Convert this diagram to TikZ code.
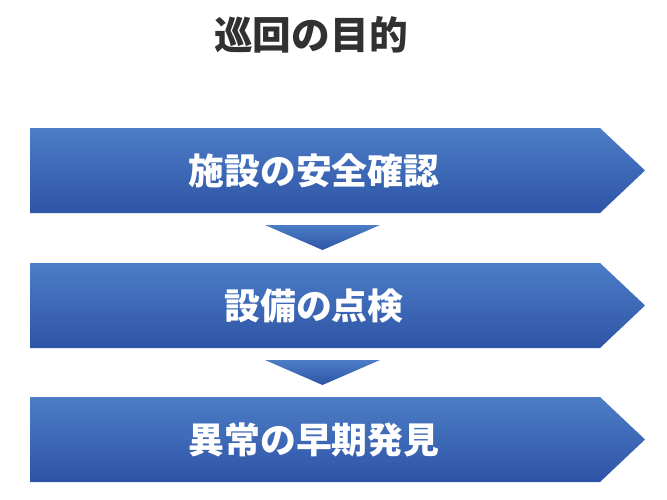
\documentclass[tikz,border=0pt]{standalone}
\usepackage{fontspec}
\newfontfamily\jp{Noto Sans CJK JP}
\usetikzlibrary{positioning}
\definecolor{boxtop}{HTML}{4C7DC6}
\definecolor{boxbot}{HTML}{2E54A6}
\definecolor{titlegray}{HTML}{333030}
\tikzset{
  stepshape/.style={top color=boxtop,bottom color=boxbot,draw=none},
  steptext/.style={text=white,font=\jp\bfseries\fontsize{25.5}{28}\selectfont},
}
\begin{document}
\begin{tikzpicture}[x=0.025cm,y=-0.025cm]
\useasboundingbox[fill=white](0,0) rectangle (667,500);
\node[text=titlegray,font=\jp\bfseries\fontsize{27.5}{30}\selectfont] (title) at (311,35) {巡回の目的};
% three steps
\foreach \t/\y/\lab in {128/s1/施設の安全確認,263/s2/設備の点検,397/s3/異常の早期発見}{
  \path[stepshape](30,\t)--(600,\t)--(645,\t+42.5)--(600,\t+85)--(30,\t+85)--cycle;
  \node[steptext] (\y) at (314,\t+42.5) {\lab};
}
% down marks
\foreach \t in {225,360}
  \path[stepshape](265,\t)--(380,\t)--(322.5,\t+25)--cycle;
\end{tikzpicture}
\end{document}
